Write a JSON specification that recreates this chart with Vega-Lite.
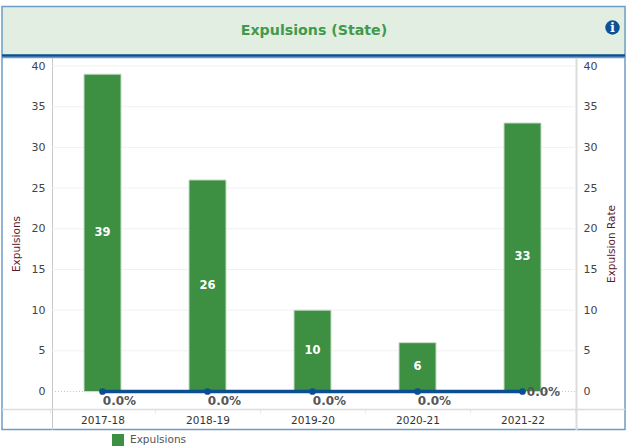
{"$schema":"https://vega.github.io/schema/vega-lite/v6.json","padding":{"left":0,"top":5.5,"right":0,"bottom":0},"spacing":-3.5,"background":"white","config":{"font":"DejaVu Sans"},"datasets":{"rows":[{"year":"2017-18","expulsions":39,"rate":0,"series":"Expulsions","pct":"0.0%"},{"year":"2018-19","expulsions":26,"rate":0,"series":"Expulsions","pct":"0.0%"},{"year":"2019-20","expulsions":10,"rate":0,"series":"Expulsions","pct":"0.0%"},{"year":"2020-21","expulsions":6,"rate":0,"series":"Expulsions","pct":"0.0%"},{"year":"2021-22","expulsions":33,"rate":0,"series":"Expulsions","pct":"0.0%"}]},"vconcat":[{"width":623,"height":50,"view":{"fill":"#e3eee2","stroke":"#6f9cc4","strokeWidth":1.5},"data":{"values":[{"label":"Expulsions (State)","px":312,"py":26,"ix":610.5,"iy":29,"info":"i","base":1}]},"layer":[{"mark":{"type":"text","font":"DejaVu Sans","fontWeight":"bold","fontSize":14.2,"color":"#3f9a4c"},"encoding":{"x":{"field":"px","type":"quantitative","scale":{"domain":[0,623]},"axis":null},"y":{"field":"py","type":"quantitative","scale":{"domain":[0,50]},"axis":null},"text":{"field":"label"}}},{"mark":{"type":"point","filled":true,"shape":"circle","size":210,"color":"#0b5394","opacity":1},"encoding":{"x":{"field":"ix","type":"quantitative","scale":{"domain":[0,623]},"axis":null},"y":{"field":"iy","type":"quantitative","scale":{"domain":[0,50]},"axis":null}}},{"mark":{"type":"text","fontWeight":"bold","fontSize":13,"color":"white","font":"DejaVu Serif"},"encoding":{"x":{"field":"ix","type":"quantitative","scale":{"domain":[0,623]},"axis":null},"y":{"field":"iy","type":"quantitative","scale":{"domain":[0,50]},"axis":null},"text":{"field":"info"}}},{"mark":{"type":"rule","color":"#0b4f92","strokeWidth":2.5},"encoding":{"y":{"field":"base","type":"quantitative","scale":{"domain":[0,50]},"axis":null}}}]},{"width":623,"height":372,"view":{"fill":"white","stroke":"#6f9cc4","strokeWidth":1.5},"data":{"name":"rows"},"resolve":{"scale":{"x":"independent","color":"independent"},"axis":{"y":"independent"}},"layer":[{"data":{"values":[{"tick":5,"a":50,"b":574},{"tick":10,"a":50,"b":574},{"tick":15,"a":50,"b":574},{"tick":20,"a":50,"b":574},{"tick":25,"a":50,"b":574},{"tick":30,"a":50,"b":574},{"tick":35,"a":50,"b":574},{"tick":40,"a":50,"b":574}]},"mark":{"type":"rule","color":"#f1f1f1","strokeWidth":1},"encoding":{"x":{"field":"a","type":"quantitative","scale":{"domain":[0,623],"range":[0,623]},"axis":null},"x2":{"field":"b"},"y":{"field":"tick","type":"quantitative","scale":{"domain":[-4.67,41.05],"nice":false,"zero":false},"axis":null}}},{"data":{"values":[{"tick":0,"a":50,"b":574}]},"mark":{"type":"rule","color":"#c8c8c8","strokeWidth":1,"strokeDash":[1,2]},"encoding":{"x":{"field":"a","type":"quantitative","scale":{"domain":[0,623],"range":[0,623]},"axis":null},"x2":{"field":"b"},"y":{"field":"tick","type":"quantitative","scale":{"domain":[-4.67,41.05],"nice":false,"zero":false},"axis":null}}},{"data":{"values":[{"tick":-2.2}]},"mark":{"type":"rule","color":"#dcdcdc","strokeWidth":1.5},"encoding":{"y":{"field":"tick","type":"quantitative","scale":{"domain":[-4.67,41.05],"nice":false,"zero":false},"axis":null}}},{"mark":{"type":"bar","width":37,"stroke":"#c5dcc6","strokeWidth":1},"encoding":{"x":{"field":"year","type":"nominal","sort":null,"scale":{"domain":["2017-18","2018-19","2019-20","2020-21","2021-22"],"range":[48,573],"paddingInner":0,"paddingOuter":0},"axis":{"title":null,"orient":"bottom","offset":-20,"labelAngle":0,"labelColor":"#333","labelFont":"DejaVu Sans","labelFontSize":10.5,"labelPadding":2.5,"domain":false,"tickBand":"extent","tickColor":"#e8e8e8","tickSize":3,"grid":false}},"y":{"field":"expulsions","type":"quantitative","scale":{"domain":[-4.67,41.05],"nice":false,"zero":false},"axis":{"orient":"left","title":"Expulsions","titleColor":"#5b1a2e","titleFontWeight":"normal","titleFontSize":10.5,"titleFont":"DejaVu Sans","titlePadding":10,"offset":-50,"values":[0,5,10,15,20,25,30,35,40],"labelColor":"#444","labelFontSize":11,"labelPadding":7,"ticks":false,"grid":false,"domainColor":"#c8c8c8","domainWidth":1}},"color":{"field":"series","type":"nominal","scale":{"domain":["Expulsions"],"range":["#3d8f42"]},"legend":{"orient":"none","legendX":110,"legendY":376.5,"title":null,"symbolType":"square","symbolSize":144,"symbolStrokeWidth":0,"labelColor":"#555","labelFontSize":10.5,"labelFont":"DejaVu Sans","labelOffset":6}}}},{"transform":[{"calculate":"datum.expulsions/2","as":"mid"}],"mark":{"type":"text","fontWeight":"bold","fontSize":11.5,"color":"white","font":"DejaVu Sans"},"encoding":{"x":{"field":"year","type":"nominal","sort":null,"scale":{"domain":["2017-18","2018-19","2019-20","2020-21","2021-22"],"range":[48,573],"paddingInner":0,"paddingOuter":0},"axis":null},"y":{"field":"mid","type":"quantitative","scale":{"domain":[-4.67,41.05],"nice":false,"zero":false},"axis":null},"text":{"field":"expulsions"}}},{"mark":{"type":"line","color":"#0b4f92","strokeWidth":3.5},"encoding":{"x":{"field":"year","type":"nominal","sort":null,"scale":{"domain":["2017-18","2018-19","2019-20","2020-21","2021-22"],"range":[48,573],"paddingInner":0,"paddingOuter":0},"axis":null},"y":{"field":"rate","type":"quantitative","scale":{"domain":[-4.67,41.05],"nice":false,"zero":false},"axis":{"orient":"right","title":"Expulsion Rate","titleAngle":270,"titleColor":"#5b1a2e","titleFontWeight":"normal","titleFontSize":10.5,"titleFont":"DejaVu Sans","titlePadding":20,"offset":-49,"values":[0,5,10,15,20,25,30,35,40],"labelColor":"#444","labelFontSize":11,"labelPadding":7,"ticks":false,"grid":false,"domainColor":"#dcdcdc","domainWidth":2}}}},{"mark":{"type":"point","filled":true,"shape":"circle","size":45,"color":"#0b4f92","opacity":1},"encoding":{"x":{"field":"year","type":"nominal","sort":null,"scale":{"domain":["2017-18","2018-19","2019-20","2020-21","2021-22"],"range":[48,573],"paddingInner":0,"paddingOuter":0},"axis":null},"y":{"field":"rate","type":"quantitative","scale":{"domain":[-4.67,41.05],"nice":false,"zero":false},"axis":null}}},{"transform":[{"filter":"datum.year !== '2021-22'"}],"mark":{"type":"text","fontWeight":"bold","fontSize":12,"color":"#555","dx":17,"dy":9},"encoding":{"x":{"field":"year","type":"nominal","sort":null,"scale":{"domain":["2017-18","2018-19","2019-20","2020-21","2021-22"],"range":[48,573],"paddingInner":0,"paddingOuter":0},"axis":null},"y":{"field":"rate","type":"quantitative","scale":{"domain":[-4.67,41.05],"nice":false,"zero":false},"axis":null},"text":{"field":"pct"}}},{"transform":[{"filter":"datum.year === '2021-22'"}],"mark":{"type":"text","fontWeight":"bold","fontSize":12,"color":"#555","dx":21,"dy":0},"encoding":{"x":{"field":"year","type":"nominal","sort":null,"scale":{"domain":["2017-18","2018-19","2019-20","2020-21","2021-22"],"range":[48,573],"paddingInner":0,"paddingOuter":0},"axis":null},"y":{"field":"rate","type":"quantitative","scale":{"domain":[-4.67,41.05],"nice":false,"zero":false},"axis":null},"text":{"field":"pct"}}}]}]}
